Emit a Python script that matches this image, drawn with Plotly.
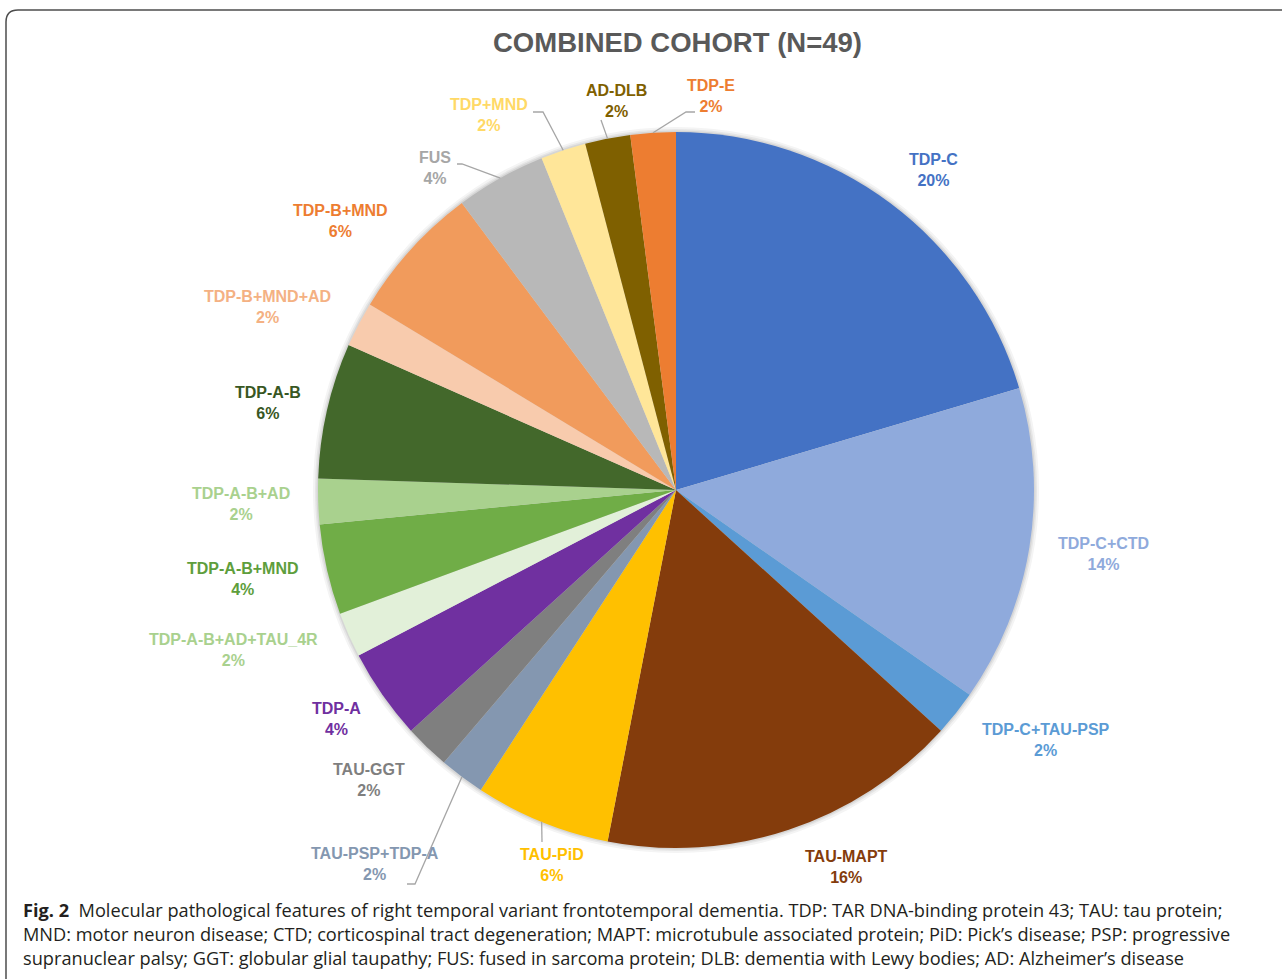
import math
import plotly.graph_objects as go

# ---------------- data ----------------
labels = ["TDP-C", "TDP-C+CTD", "TDP-C+TAU-PSP", "TAU-MAPT", "TAU-PiD",
          "TAU-PSP+TDP-A", "TAU-GGT", "TDP-A", "TDP-A-B+AD+TAU_4R",
          "TDP-A-B+MND", "TDP-A-B+AD", "TDP-A-B", "TDP-B+MND+AD",
          "TDP-B+MND", "FUS", "TDP+MND", "AD-DLB", "TDP-E"]
counts = [10, 7, 1, 8, 3, 1, 1, 2, 1, 2, 1, 3, 1, 3, 2, 1, 1, 1]

title_text = "COMBINED COHORT (N=49)"
caption_lines = [
    "<b>Fig. 2</b>  Molecular pathological features of right temporal variant frontotemporal dementia. TDP: TAR DNA-binding protein 43; TAU: tau protein;",
    "MND: motor neuron disease; CTD; corticospinal tract degeneration; MAPT: microtubule associated protein; PiD: Pick\u2019s disease; PSP: progressive",
    "supranuclear palsy; GGT: globular glial taupathy; FUS: fused in sarcoma protein; DLB: dementia with Lewy bodies; AD: Alzheimer\u2019s disease",
]

# ---------------- styles ----------------
slice_colors = ["#4472C4", "#8FAADC", "#5B9BD5", "#843C0C", "#FFC000",
                "#8497B0", "#7F7F7F", "#7030A0", "#E2F0D9",
                "#70AD47", "#A9D18E", "#43682B", "#F8CBAD",
                "#F19B5C", "#B8B8B8", "#FFE699", "#7F6000", "#ED7D31"]
label_colors = ["#4472C4", "#8FAADC", "#5B9BD5", "#843C0C", "#FFC000",
                "#8497B0", "#7F7F7F", "#7030A0", "#A9D18E",
                "#5E9E3C", "#A9D18E", "#385723", "#F4B183",
                "#ED7D31", "#A6A6A6", "#FFD966", "#7F6000", "#ED7D31"]

W, H = 1282, 979
CX, CY, R = 676, 490, 358   # pie centre / radius in screen pixels

# label block centres (pixels) and leader elbows, layout only
label_pos = [(933, 170), (1103, 554), (1046, 740), (846, 867), (552, 865),
             (375, 864), (369, 780), (336, 719), (233, 650),
             (243, 579), (241, 504), (268, 403), (267, 307),
             (340, 221), (435, 168), (489, 115), (616, 101), (711, 96)]
leaders = {4: [(542, 842)],
           5: [(407, 884), (415, 884)],
           14: [(457, 164), (462, 164)],
           15: [(533, 112), (543, 112)],
           16: [(601, 120)],
           17: [(695, 112), (686, 112)]}


def px(x):
    return x / W


def py(y):
    return 1 - y / H


fig = go.Figure()
fig.add_trace(go.Pie(
    labels=labels, values=counts, sort=False, direction="clockwise",
    rotation=0, textinfo="none", showlegend=False,
    marker=dict(colors=slice_colors, line=dict(width=0)),
    domain=dict(x=[px(CX - R), px(CX + R)], y=[py(CY + R), py(CY - R)]),
))

total = sum(counts)
annotations = []
shapes = []

# soft shadow around the pie
for extra, col in [(5, "#F4F4F4"), (3, "#E6E6E6"), (1.5, "#D6D6D6")]:
    shapes.append(dict(type="circle", xref="paper", yref="paper", layer="below",
                       x0=px(CX - R - extra), x1=px(CX + R + extra),
                       y0=py(CY + R + extra), y1=py(CY - R - extra),
                       fillcolor=col, line=dict(width=0)))

cum = 0
for i, (lab, v) in enumerate(zip(labels, counts)):
    mid = (cum + v / 2) / total * 2 * math.pi
    cum += v
    pct = round(v / total * 100)
    lx, ly = label_pos[i]
    annotations.append(dict(
        x=px(lx), y=py(ly), xref="paper", yref="paper",
        text=f"<b>{lab}<br>{pct}%</b>", showarrow=False,
        xanchor="center", yanchor="middle", align="center",
        font=dict(family="Arial, Liberation Sans", size=16, color=label_colors[i]),
    ))
    if i in leaders:
        ex = CX + R * math.sin(mid)
        ey = CY - R * math.cos(mid)
        pts = leaders[i] + [(ex, ey)]
        path = "M " + " L ".join(f"{px(a):.5f},{py(b):.5f}" for a, b in pts)
        shapes.append(dict(type="path", path=path, xref="paper", yref="paper",
                           line=dict(color="#A6A6A6", width=1.3)))

# title
annotations.append(dict(
    x=px(677), y=py(42), xref="paper", yref="paper", text=f"<b>{title_text}</b>",
    showarrow=False, xanchor="center", yanchor="middle",
    font=dict(family="Arial, Liberation Sans", size=27.5, color="#595959"),
))

# caption
for k, line in enumerate(caption_lines):
    annotations.append(dict(
        x=px(21), y=py(910 + 24 * k), xref="paper", yref="paper", text=line,
        showarrow=False, xanchor="left", yanchor="middle", align="left",
        font=dict(family="Open Sans", size=18.2, color="#231F20"),
    ))

# rounded frame
r = 12
x0, yt = 6, 10
frame = (f"M {px(x0):.5f},{py(H + 10):.5f} L {px(x0):.5f},{py(yt + r):.5f} "
         f"Q {px(x0):.5f},{py(yt):.5f} {px(x0 + r):.5f},{py(yt):.5f} "
         f"L {px(W + 10):.5f},{py(yt):.5f}")
shapes.append(dict(type="path", path=frame, xref="paper", yref="paper",
                   line=dict(color="#4D4D4D", width=1.5)))

fig.update_layout(
    width=W, height=H, margin=dict(l=0, r=0, t=0, b=0),
    paper_bgcolor="white", plot_bgcolor="white",
    annotations=annotations, shapes=shapes,
)
fig.write_html("out.html", config={"displayModeBar": False},
               post_script="document.body.style.margin='0';document.body.style.overflow='hidden';")
